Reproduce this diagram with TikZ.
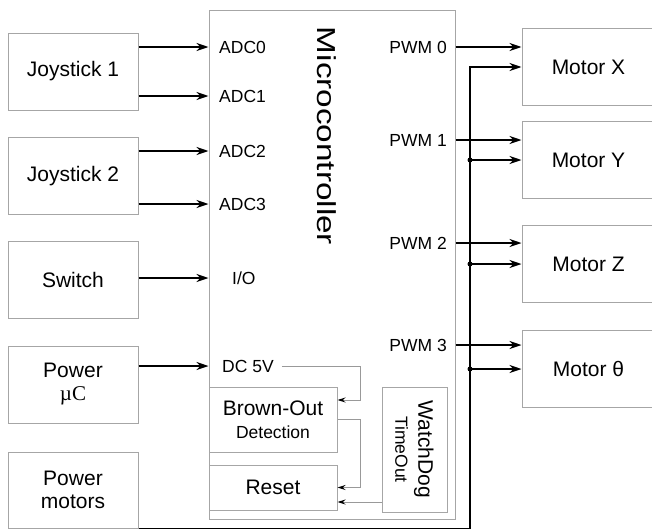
\documentclass[tikz,border=0pt]{standalone}
\usepackage{graphicx}
\usepackage{fontspec}
\setmainfont{Liberation Sans}
\newfontfamily\serifuc{Liberation Serif}
\usepackage{tikz}
\usetikzlibrary{arrows.meta}
\newcommand{\bigtxt}{\fontsize{21}{23}\selectfont}
\newcommand{\smalltxt}{\fontsize{17.5}{20}\selectfont}
\newcommand{\mcutxt}{\fontsize{26}{28}\selectfont}

\begin{document}
\begin{tikzpicture}[
    x=1pt, y=-1pt,
    blk/.style={draw=black!35, line width=1pt, minimum width=130pt, minimum height=77pt, align=center, font=\bigtxt, inner sep=0pt},
    motor/.style={blk, minimum width=133pt},
    lbl/.style={font=\smalltxt, inner sep=0pt},
    arr/.style={-{Stealth[length=12pt,width=8pt]}, line width=1.8pt},
    gline/.style={-{Stealth[length=8pt,width=5pt,color=black]}, draw=black!40, line width=1pt}
]
\useasboundingbox (0,0) rectangle (652,530);
\clip (0,0) rectangle (652,530);

% inputs
\node[blk] (joy1) at (73,71.5) {Joystick 1};
\node[blk] (joy2) at (73,176) {Joystick 2};
\node[blk] (swt) at (73,280) {Switch};
\node[blk] (pwuc) at (73,384.5) {Power\\{\serifuc µC}};
\node[blk, minimum height=76pt] (pwmot) at (73,490) {Power\\motors};

% microcontroller
\node[draw=black!35, line width=1pt, minimum width=246pt, minimum height=509pt] (mcu) at (332,264.5) {};
\node[rotate=-90, font=\mcutxt, inner sep=0pt] (mcuname) at (327,136) {\scalebox{1.28}[1]{Microcontroller}};
\node[blk, minimum width=128pt, minimum height=65pt] (bod) at (273,419.5) {Brown-Out\\{\smalltxt Detection}};
\node[blk, minimum width=128pt, minimum height=45pt] (rst) at (273,487.5) {Reset};
\node[blk, rotate=-90, minimum width=125pt, minimum height=65pt] (wdg) at (414.5,449.5) {WatchDog\\{\smalltxt TimeOut}};

% pins
\node[lbl, anchor=west] (adc0) at (219,47) {ADC0};
\node[lbl, anchor=west] (adc1) at (219,96) {ADC1};
\node[lbl, anchor=west] (adc2) at (219,151) {ADC2};
\node[lbl, anchor=west] (adc3) at (219,204) {ADC3};
\node[lbl, anchor=west] (io) at (232,278) {I/O};
\node[lbl, anchor=west] (dc5v) at (222,366) {DC 5V};
\node[lbl, anchor=east] (pwm0) at (447,47) {PWM 0};
\node[lbl, anchor=east] (pwm1) at (447,140) {PWM 1};
\node[lbl, anchor=east] (pwm2) at (447,243) {PWM 2};
\node[lbl, anchor=east] (pwm3) at (447,345) {PWM 3};

% motors
\node[motor] (motx) at (588.5,67) {Motor X};
\node[motor] (moty) at (588.5,160) {Motor Y};
\node[motor] (motz) at (588.5,264) {Motor Z};
\node[motor] (mott) at (588.5,369) {Motor θ};

\draw[arr] (joy1.east |- adc0) -- (mcu.west |- adc0);
\draw[arr] (joy1.east |- adc1) -- (mcu.west |- adc1);
\draw[arr] (joy2.east |- adc2) -- (mcu.west |- adc2);
\draw[arr] (joy2.east |- adc3) -- (mcu.west |- adc3);
\draw[arr] (swt.east |- io) -- (mcu.west |- io);
\draw[arr] (pwuc.east |- dc5v) -- (mcu.west |- dc5v);

\draw[arr] (mcu.east |- pwm0) -- (motx.west |- pwm0);
\draw[arr] (mcu.east |- pwm1) -- (moty.west |- pwm1);
\draw[arr] (mcu.east |- pwm2) -- (motz.west |- pwm2);
\draw[arr] (mcu.east |- pwm3) -- (mott.west |- pwm3);

% motor supply bus
\coordinate (bus) at (470,0);
\draw[arr] (pwmot.south east) -| (bus |- motx.west) -- (motx.west);
\foreach \m in {moty,motz,mott} {
    \fill (bus |- \m.west) circle (2.5pt);
    \draw[arr] (bus |- \m.west) -- (\m.west);
}

% internal signals
\coordinate (k1) at (360,400);
\coordinate (k2) at (360,0);
\coordinate (wd) at (0,502);
\draw[gline] ([xshift=8pt]dc5v.east) -| (k1) -- (bod.east |- k1);
\draw[gline] (bod.east) -| (k2 |- rst.east) -- (rst.east);
\draw[gline] (wdg.south |- wd) -- (rst.east |- wd);
\end{tikzpicture}
\end{document}
